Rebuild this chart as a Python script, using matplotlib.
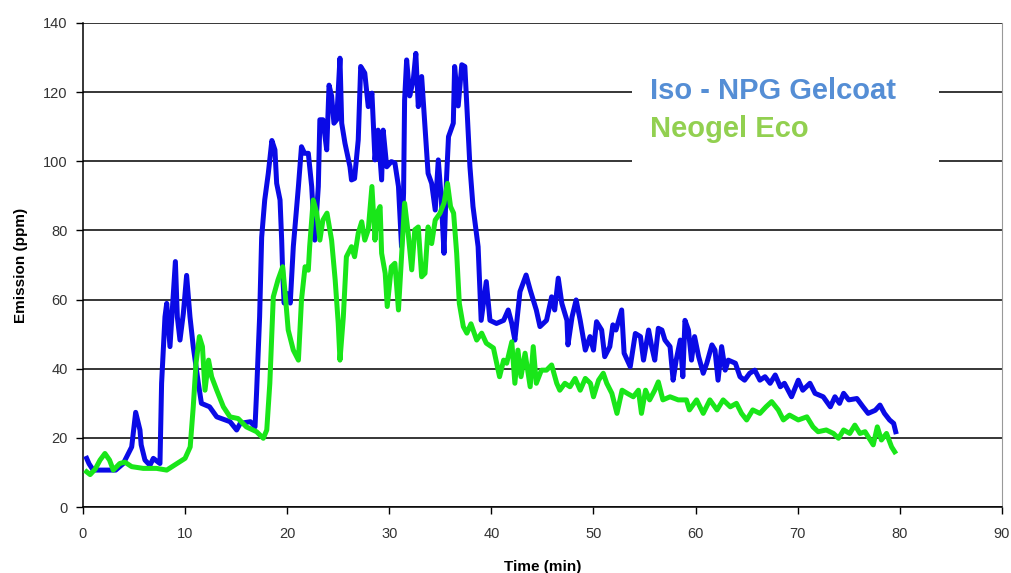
import matplotlib
matplotlib.use('Agg')
import matplotlib.pyplot as plt
from matplotlib.patches import Rectangle

plt.rcParams['font.family'] = ['Liberation Sans', 'DejaVu Sans']

# Iso - NPG Gelcoat (blue)
iso_t = [0.36, 0.6, 1.0, 2.0, 3.2, 3.95, 4.77, 5.16, 5.58, 5.7, 6.07, 6.56, 6.89, 7.54, 7.7,
         8.03, 8.2, 8.52, 8.85, 9.05, 9.24, 9.5, 9.83, 10.15, 10.48, 10.8, 11.3, 11.6, 12.4,
         13.1, 14.4, 15.05, 15.4, 16.4, 16.85, 17.0, 17.3, 17.5, 17.8, 18.15, 18.5, 18.8,
         18.97, 19.3, 19.46, 19.56, 19.7, 19.95, 20.3, 20.6, 21.1, 21.4, 21.7, 22.07, 22.4,
         22.7, 23.05, 23.2, 23.5, 23.87, 24.1, 24.35, 24.58, 24.85, 25.17, 25.34, 25.66,
         26.15, 26.3, 26.6, 26.96, 27.2, 27.6, 27.94, 28.3, 28.6, 28.9, 29.25, 29.4, 29.75,
         30.2, 30.55, 30.9, 31.2, 31.4, 31.5, 31.7, 32.0, 32.35, 32.6, 32.84, 33.17, 33.5,
         33.8, 34.15, 34.5, 34.8, 35.1, 35.36, 35.6, 35.8, 36.27, 36.4, 36.75, 37.1, 37.4,
         37.6, 37.9, 38.2, 38.7, 39.0, 39.5, 39.86, 40.5, 41.2, 41.65, 42.0, 42.3, 42.8,
         43.4, 43.8, 44.4, 44.76, 45.4, 45.9, 46.2, 46.55, 46.9, 47.4, 47.5, 47.9, 48.3,
         48.7, 49.2, 49.66, 50.0, 50.3, 50.8, 51.1, 51.6, 51.9, 52.2, 52.76, 53.0, 53.6,
         54.1, 54.6, 54.9, 55.4, 55.7, 56.0, 56.35, 56.7, 57.0, 57.5, 57.8, 58.1, 58.5,
         58.75, 58.96, 59.3, 59.6, 59.9, 60.3, 60.75, 61.1, 61.6, 61.9, 62.2, 62.55, 62.9,
         63.2, 63.9, 64.35, 64.8, 65.3, 65.8, 66.3, 66.8, 67.3, 67.8, 68.3, 68.7, 69.4,
         70.06, 70.5, 71.2, 71.7, 72.5, 73.2, 73.65, 74.1, 74.5, 75.0, 75.8, 76.4, 76.9,
         77.6, 78.06, 78.5, 79.0, 79.4, 79.6]
iso_ppm = [14.1, 12.5, 10.7, 10.7, 10.7, 12.6, 17.4, 27.4, 22.3, 18, 13.6, 12.1, 14.1, 12.6, 35.8,
           55, 58.9, 46.4, 61.8, 71, 55, 48.3, 56, 67, 55, 46.4, 35.8, 30, 29,
           26.1, 24.7, 22.3, 24.2, 24.7, 23.2, 33, 55, 78, 88.8, 96.5, 106, 103.3,
           93.6, 88.8, 77.2, 67.6, 59, 61.8, 59, 75.3, 92.7, 104.2, 102.3, 102.3, 92.7,
           77.2, 92.7, 112, 112, 103.3, 122, 118.9, 111, 112, 129.8, 111, 105.2,
           98.4, 94.6, 95, 106.2, 127.4, 125.5, 115.8, 119.7, 100.4, 109, 94.6, 109, 98.4,
           99.9, 99.5, 92.7, 75.3, 90.8, 117.7, 129.3, 118.9, 123.5, 131.2, 115.8, 124.5, 110,
           96.5, 93.6, 85.9, 100.4, 88.8, 73.4, 94.6, 107.1, 111, 127.4, 116, 127.9, 127.4,
           115.8, 98.4, 86.9, 75.3, 54, 65.2, 54, 53.1, 54, 57, 53.1, 48.3, 62.3,
           67.1, 62.8, 57, 52.2, 54, 60.8, 57, 66.2, 58.9, 54, 46.9, 55, 59.9,
           54, 45.4, 49.3, 45.4, 53.6, 51.2, 43.5, 46.4, 52.7, 51.2, 57, 44.5, 40.6,
           50.2, 49.3, 42.5, 51.2, 46.4, 42.5, 51.7, 51.2, 48.3, 46.4, 36.7, 42.5, 48.3,
           37.7, 54, 51.2, 42.5, 49.3, 43.5, 38.7, 41.6, 46.9, 45.4, 36.7, 46.4, 39.6,
           42.5, 41.6, 37.7, 36.7, 38.7, 39.6, 36.7, 37.7, 35.8, 38.2, 34.8, 35.8, 31.9,
           36.7, 33.8, 35.8, 32.9, 31.9, 29, 31.9, 30, 32.9, 31, 31.4, 29, 27.1,
           28, 29.5, 27.1, 25.2, 24.2, 21.8]

# Neogel Eco (green)
eco_t = [0.36, 0.7, 1.2, 1.67, 2.15, 2.6, 2.97, 3.6, 4.1, 4.77, 5.9, 7.2, 8.2, 9.2, 10.0,
         10.5, 10.8, 11.07, 11.4, 11.7, 11.95, 12.3, 12.6, 13.1, 13.75, 14.4, 15.2, 16.0,
         17.0, 17.66, 18.0, 18.3, 18.64, 19.1, 19.56, 19.8, 20.1, 20.6, 21.1, 21.4, 21.75,
         22.07, 22.2, 22.55, 22.9, 23.2, 23.5, 23.9, 24.35, 24.7, 25.0, 25.17, 25.5, 25.8,
         26.3, 26.6, 26.96, 27.3, 27.6, 27.94, 28.3, 28.6, 28.8, 29.1, 29.25, 29.6, 29.8,
         30.2, 30.55, 30.9, 31.2, 31.5, 31.85, 32.2, 32.5, 32.84, 33.17, 33.5, 33.8, 34.15,
         34.5, 34.97, 35.36, 35.7, 36.0, 36.3, 36.6, 36.86, 37.25, 37.6, 38.0, 38.56, 39.05,
         39.5, 40.2, 40.8, 41.2, 41.5, 42.0, 42.3, 42.6, 42.9, 43.3, 43.8, 44.1, 44.4,
         44.9, 45.4, 45.9, 46.4, 46.7, 47.2, 47.7, 48.2, 48.7, 49.2, 49.7, 50.0, 50.5,
         50.96, 51.3, 51.8, 52.3, 52.8, 53.3, 53.9, 54.4, 54.7, 55.1, 55.5, 56.0, 56.35,
         56.8, 57.5, 58.3, 59.1, 59.4, 60.1, 60.75, 61.4, 62.1, 62.7, 63.4, 64.0, 64.5,
         65.0, 65.6, 66.3, 66.9, 67.45, 68.1, 68.6, 69.2, 70.06, 70.9, 71.5, 72.0, 72.8,
         73.5, 74.0, 74.5, 75.1, 75.6, 76.1, 76.6, 77.1, 77.4, 77.8, 78.2, 78.7, 79.2, 79.5]
eco_ppm = [10.2, 9.4, 11, 13.6, 15.5, 13.6, 10.7, 12.6, 13, 11.7, 11.2, 11.2, 10.7, 12.6, 14.1,
           17.4, 29, 41.6, 49.3, 46.4, 33.8, 42.5, 37.7, 33.8, 29, 26.1, 25.6, 23.2,
           21.8, 19.9, 22.3, 35.8, 60.8, 65.7, 69.5, 61.8, 51.2, 45.4, 42.5, 59.9, 69.5,
           68.5, 75.3, 88.8, 85, 77.2, 83, 85, 77.2, 65.7, 53.1, 42.5, 55, 72.4,
           75.3, 72.4, 79.2, 82.5, 77.2, 80.2, 92.7, 77.2, 85, 86.9, 73.4, 67.6, 58,
           69.5, 70.5, 57, 72.4, 87.9, 79.2, 68.6, 80.2, 81, 66.6, 67.6, 81, 76.2,
           83, 85, 87.9, 93.6, 86.9, 85, 73.4, 58.9, 52.2, 50.3, 53, 48.3, 50.3,
           47.4, 46, 37.7, 42.5, 41.6, 47.8, 35.8, 45.4, 37.7, 44.5, 34.8, 46.4, 35.8,
           39.6, 39.6, 41.1, 35.8, 33.8, 35.8, 34.8, 37.2, 33.8, 37.2, 35.8, 31.9, 36.7,
           38.7, 35.8, 32.9, 27.1, 33.8, 32.9, 31.9, 33.8, 27.1, 33.8, 31, 33.8, 36.2,
           31, 31.9, 31, 31, 28.1, 31, 27.1, 31, 28.1, 31, 29, 30, 27.1,
           25.2, 28.1, 27.1, 29, 30.5, 28.1, 25.2, 26.6, 25.2, 26.1, 23.2, 21.8, 22.3,
           21.3, 19.9, 22.3, 21.3, 23.7, 21.3, 21.8, 19.4, 18, 23.2, 19.4, 21.3, 17.4, 16]

series_names = ['Iso - NPG Gelcoat', 'Neogel Eco']
x_ticks = list(range(0, 100, 10))
y_ticks = list(range(0, 160, 20))


def drawChart():
    fig = plt.figure(figsize=(10.12, 5.73), dpi=100)
    ax = fig.add_axes([0.082, 0.115, 0.908, 0.845])

    ax.plot(iso_t, iso_ppm, color='#0a0ae6', lw=3.6, solid_joinstyle='round', zorder=3)
    ax.plot(eco_t, eco_ppm, color='#19e619', lw=3.6, solid_joinstyle='round', zorder=4)

    ax.set_xlim(0, 90)
    ax.set_ylim(0, 140)
    ax.set_xticks(x_ticks)
    ax.set_yticks(y_ticks)
    ax.yaxis.grid(True, color='black', lw=1.1)
    ax.set_axisbelow(True)
    ax.tick_params(direction='out', length=5, width=1, labelsize=10.5,
                   labelcolor='#333333')
    ax.tick_params(axis='x', pad=9)
    ax.tick_params(axis='y', pad=6)

    for s in ['left', 'bottom']:
        ax.spines[s].set_color('black')
        ax.spines[s].set_linewidth(1.1)
    ax.spines['top'].set_visible(False)
    ax.spines['right'].set_color('#999999')

    ax.set_xlabel('Time (min)', fontsize=11, fontweight='bold', labelpad=14)
    ax.set_ylabel('Emission (ppm)', fontsize=11, fontweight='bold', labelpad=11)

    # legend: white box over the grid with coloured text
    ax.add_patch(Rectangle((0.597, 0.68), 0.335, 0.25, transform=ax.transAxes,
                           facecolor='white', edgecolor='none', zorder=2))
    ax.text(0.617, 0.859, series_names[0], transform=ax.transAxes, color='#558ed5',
            fontsize=21, fontweight='bold', va='center', ha='left', zorder=5)
    ax.text(0.617, 0.781, series_names[1], transform=ax.transAxes, color='#92d050',
            fontsize=21, fontweight='bold', va='center', ha='left', zorder=5)

    fig.savefig('out.png', dpi=100)


if __name__ == "__main__":
    drawChart()
